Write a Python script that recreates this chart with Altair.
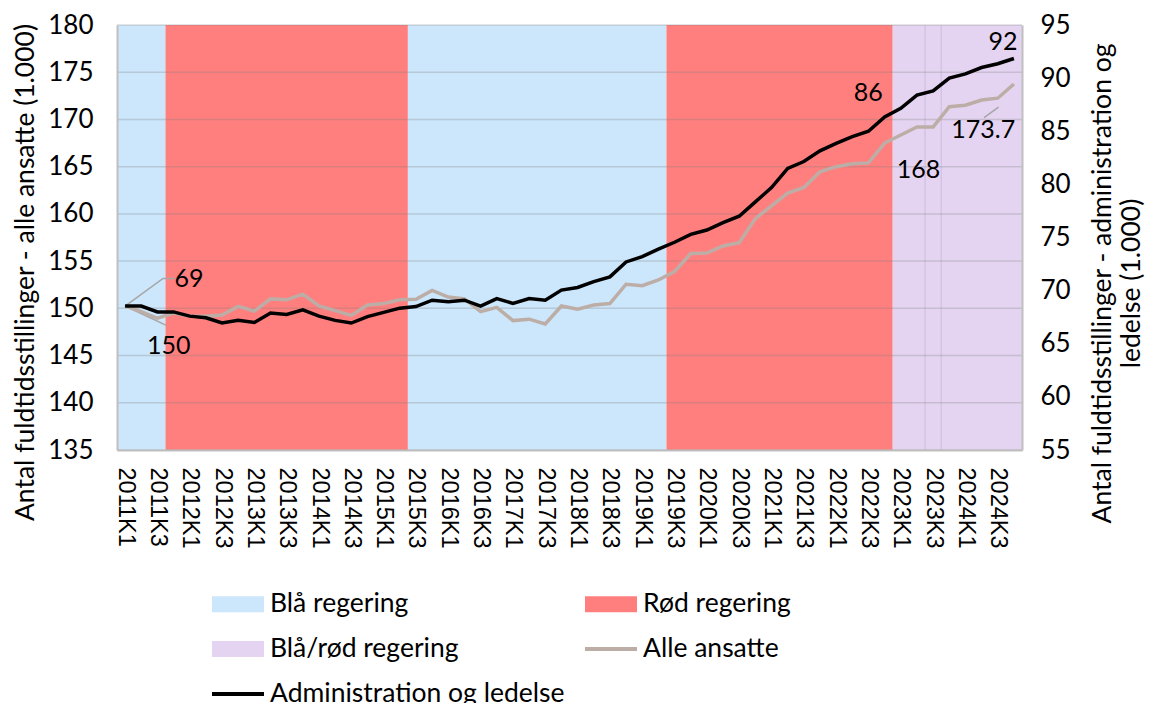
import json
import altair as alt
import pandas as pd

# ---------------- data ----------------
quarters = [f"{y}K{q}" for y in range(2011, 2025) for q in range(1, 5)]

alle_ansatte = [150.25, 149.65, 148.95, 149.5, 149.2, 149.15, 149.3, 150.2, 149.7, 151.0,
                150.9, 151.5, 150.25, 149.75, 149.25, 150.35, 150.5, 150.9, 150.95, 151.9,
                151.2, 151.0, 149.65, 150.1, 148.7, 148.85, 148.35, 150.25, 149.9, 150.35,
                150.5, 152.55, 152.4, 153.0, 153.9, 155.8, 155.85, 156.6, 156.95, 159.5,
                160.85, 162.2, 162.8, 164.45, 165.0, 165.3, 165.4, 167.5, 168.35, 169.2,
                169.2, 171.35, 171.5, 172.05, 172.25, 173.75]
admin_ledelse = [68.55, 68.55, 68.0, 68.0, 67.6, 67.45, 66.95, 67.2, 67.0, 67.9,
                 67.75, 68.2, 67.6, 67.2, 66.95, 67.55, 67.95, 68.35, 68.5, 69.1,
                 68.95, 69.1, 68.55, 69.25, 68.8, 69.25, 69.1, 70.05, 70.3, 70.85,
                 71.3, 72.7, 73.2, 73.9, 74.55, 75.3, 75.7, 76.4, 77.0, 78.35,
                 79.7, 81.5, 82.15, 83.15, 83.85, 84.5, 85.0, 86.35, 87.15, 88.4,
                 88.8, 90.0, 90.4, 91.0, 91.35, 91.85]

gov_names = ["Blå regering", "Rød regering", "Blå regering", "Rød regering", "Blå/rød regering"]
gov_start = ["2011K1", "2011K4", "2015K3", "2019K3", "2023K1"]
gov_end = ["2011K3", "2015K2", "2019K2", "2022K4", "2024K4"]
purple_split_after = ["2023K2", "2023K3"]

legend_names = ["Blå regering", "Rød regering", "Blå/rød regering", "Alle ansatte",
                "Administration og ledelse"]
legend_colors = ["#CCE6FB", "#FF7F7F", "#E4D4F1", "#BCAEA6", "#000000"]
SWATCH = "M-1.3,-0.4H1.3V0.4H-1.3Z"
LINE = "M-1.3,-0.1H1.3V0.1H-1.3Z"
legend_shapes = [SWATCH, SWATCH, SWATCH, LINE, LINE]

left_ticks = [135, 140, 145, 150, 155, 160, 165, 170, 175, 180]
right_ticks = [55, 60, 65, 70, 75, 80, 85, 90, 95]

# annotations (position in quarter index / axis value)
gray_lbl_text = ["150", "168", "173.7"]
gray_lbl_x = [2.7, 49.1, 53.1]
gray_lbl_y = [146.0, 164.6, 168.9]
black_lbl_text = ["69", "86", "92"]
black_lbl_x = [3.96, 45.98, 54.33]
black_lbl_y = [71.1, 88.6, 93.4]

gray_leader_id = ["150", "150", "173.7", "173.7"]
gray_leader_x = [0, 2.55, 53.15, 54.05]
gray_leader_y = [150.25, 148.2, 170.2, 171.3]
black_leader_id = ["69", "69", "69"]
black_leader_x = [0, 2.35, 3.1]
black_leader_y = [68.55, 71.15, 71.15]

# ---------------- frames ----------------
df_line = pd.DataFrame({"idx": list(range(len(quarters))), "q": quarters,
                        "alle": alle_ansatte, "adm": admin_ledelse})
df_gov = pd.DataFrame({"gov": gov_names,
                       "s": [quarters.index(q) for q in gov_start],
                       "e": [quarters.index(q) for q in gov_end]})
df_split = pd.DataFrame({"b": [quarters.index(q) for q in purple_split_after]})
df_grid = pd.DataFrame({"v": left_ticks})
df_glbl = pd.DataFrame({"t": gray_lbl_text, "x": gray_lbl_x, "y": gray_lbl_y})
df_blbl = pd.DataFrame({"t": black_lbl_text, "x": black_lbl_x, "y": black_lbl_y})
df_gld = pd.DataFrame({"id": gray_leader_id, "x": gray_leader_x, "y": gray_leader_y,
                       "o": list(range(len(gray_leader_x)))})
df_bld = pd.DataFrame({"id": black_leader_id, "x": black_leader_x, "y": black_leader_y,
                       "o": list(range(len(black_leader_x)))})
df_leg = pd.DataFrame({"name": legend_names})

FONT = "Lato"
TICK_FS = 26
TITLE_FS = 26.5
LBL_FS = 25
LEG_FS = 26.5

x_scale = alt.Scale(domain=[-0.5, len(quarters) - 0.5], nice=False, zero=False)
yl_scale = alt.Scale(domain=[left_ticks[0], left_ticks[-1]], nice=False, zero=False)
yr_scale = alt.Scale(domain=[right_ticks[0], right_ticks[-1]], nice=False, zero=False)

x_axis = alt.Axis(values=list(range(0, len(quarters), 2)),
                  labelExpr=json.dumps(quarters) + "[datum.value]",
                  labelAngle=90, labelAlign="left", labelBaseline="middle",
                  labelFont="Liberation Sans", labelFontSize=23.5, labelColor="black",
                  labelPadding=17, ticks=False, grid=False, domain=True,
                  domainColor="#BFBFBF", domainWidth=2, title=None, zindex=1,
                  labelOverlap=False)

yl_axis = alt.Axis(values=left_ticks, labelFont=FONT, labelFontSize=TICK_FS,
                   labelColor="black", labelPadding=24, ticks=False, grid=False,
                   domainColor="#BFBFBF", domainWidth=2, zindex=1,
                   title="Antal fuldtidsstillinger - alle ansatte (1.000)",
                   titleFont=FONT, titleFontSize=TITLE_FS, titleFontWeight="normal",
                   titleColor="black", titleAngle=-90, titleAlign="center",
                   titleBaseline="middle", titleX=-92, titleY=247)

yr_axis = alt.Axis(orient="right", values=right_ticks, labelFont=FONT, labelFontSize=TICK_FS,
                   labelColor="black", labelPadding=18, ticks=False, grid=False,
                   domainColor="#BFBFBF", domainWidth=2, zindex=1,
                   title=["Antal fuldtidsstillinger - administration og", "ledelse (1.000)"],
                   titleFont=FONT, titleFontSize=TITLE_FS, titleFontWeight="normal",
                   titleColor="black", titleAngle=-90, titleAlign="center",
                   titleBaseline="middle", titleX=80, titleY=258, titleLineHeight=29)

legend = alt.Legend(title=None, orient="none", legendX=101, legendY=559, columns=2,
                    direction="horizontal",
                    columnPadding=20, rowPadding=11, symbolSize=1600,
                    labelFont=FONT, labelFontSize=LEG_FS, labelColor="black", labelLimit=500,
                    labelOffset=12, symbolStrokeWidth=0, symbolOpacity=1)

fill_scale = alt.Scale(domain=legend_names[:3], range=legend_colors[:3])
color_scale = alt.Scale(domain=legend_names, range=legend_colors)
shape_scale = alt.Scale(domain=legend_names, range=legend_shapes)

bands = alt.Chart(df_gov).transform_calculate(
    x0="datum.s - 0.5", x1="datum.e + 0.5"
).mark_rect(opacity=1).encode(
    x=alt.X("x0:Q", scale=x_scale, axis=x_axis),
    x2="x1:Q",
    fill=alt.Fill("gov:N", scale=fill_scale, legend=None),
)

# legend only: rows are filtered away, the legend shows the full colour/shape domain
legend_pts = alt.Chart(df_leg).transform_filter("false").mark_point(
    filled=True, opacity=1, strokeWidth=0
).encode(
    color=alt.Color("name:N", scale=color_scale, legend=legend),
    shape=alt.Shape("name:N", scale=shape_scale, legend=legend),
)

splits = alt.Chart(df_split).transform_calculate(xb="datum.b + 0.5").mark_rule(
    color="#CDBBDF", strokeWidth=1
).encode(x=alt.X("xb:Q", scale=x_scale, axis=x_axis))

grid = alt.Chart(df_grid).mark_rule(color="#7F7F7F", strokeWidth=1.5, opacity=0.28).encode(
    y=alt.Y("v:Q", scale=yl_scale, axis=yl_axis)
)

gray_line = alt.Chart(df_line).mark_line(color="#BCAEA6", strokeWidth=3.5).encode(
    x=alt.X("idx:Q", scale=x_scale, axis=x_axis),
    y=alt.Y("alle:Q", scale=yl_scale, axis=yl_axis),
)

gray_leaders = alt.Chart(df_gld).mark_line(color="#A6A6A6", strokeWidth=1.5).encode(
    x=alt.X("x:Q", scale=x_scale, axis=x_axis),
    y=alt.Y("y:Q", scale=yl_scale, axis=yl_axis),
    detail="id:N", order="o:Q",
)

gray_texts = alt.Chart(df_glbl).mark_text(font=FONT, fontSize=LBL_FS, color="black",
                                          align="center", baseline="middle").encode(
    x=alt.X("x:Q", scale=x_scale, axis=x_axis),
    y=alt.Y("y:Q", scale=yl_scale, axis=yl_axis),
    text="t:N",
)

black_line = alt.Chart(df_line).mark_line(color="#000000", strokeWidth=3.5).encode(
    x=alt.X("idx:Q", scale=x_scale, axis=x_axis),
    y=alt.Y("adm:Q", scale=yr_scale, axis=yr_axis),
)

black_leaders = alt.Chart(df_bld).mark_line(color="#A6A6A6", strokeWidth=1.5).encode(
    x=alt.X("x:Q", scale=x_scale, axis=x_axis),
    y=alt.Y("y:Q", scale=yr_scale, axis=yr_axis),
    detail="id:N", order="o:Q",
)

black_texts = alt.Chart(df_blbl).mark_text(font=FONT, fontSize=LBL_FS, color="black",
                                           align="center", baseline="middle").encode(
    x=alt.X("x:Q", scale=x_scale, axis=x_axis),
    y=alt.Y("y:Q", scale=yr_scale, axis=yr_axis),
    text="t:N",
)

left = alt.layer(bands, splits, grid, gray_leaders, gray_line, gray_texts, legend_pts)
right = alt.layer(black_leaders, black_line, black_texts)

chart = alt.layer(left, right).resolve_scale(y="independent").properties(
    width=905, height=425,
    autosize=alt.AutoSizeParams(type="none"),
    padding={"left": 109, "top": 17, "right": 123, "bottom": 253},
).configure_view(stroke=None).configure(background="white")

chart.save("out.html", embed_options={"renderer": "svg", "actions": False})
